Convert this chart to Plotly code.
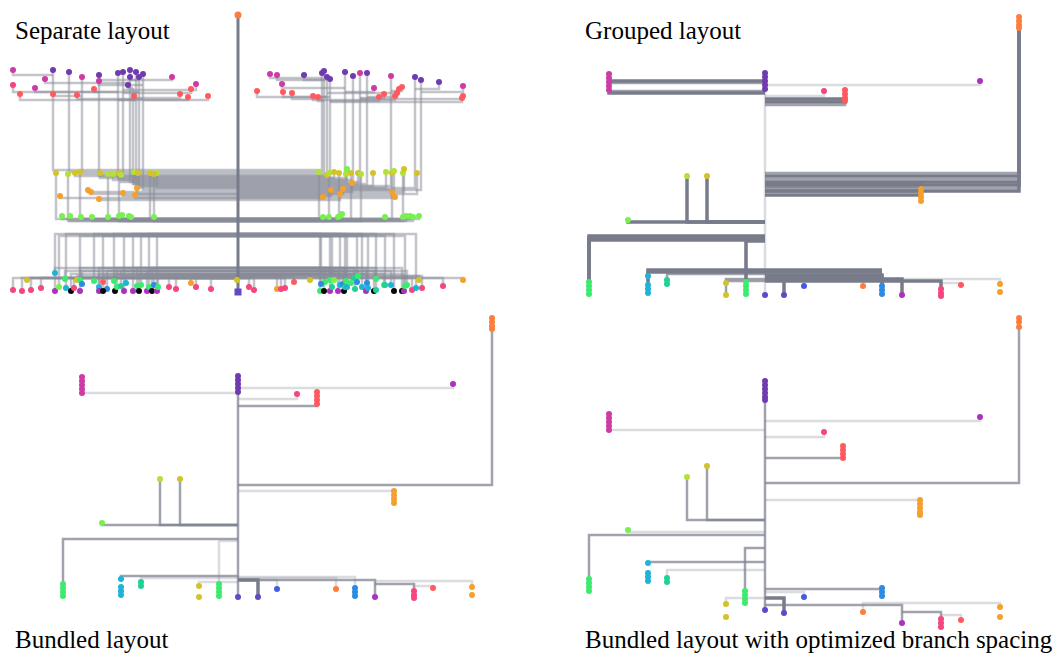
import plotly.graph_objects as go

# ---------------- colours ----------------
COL = {
    "O": "rgb(255,125,60)", "P": "rgb(110,60,175)", "M": "rgb(205,60,165)",
    "K": "rgb(245,70,125)", "R": "rgb(255,90,95)", "Y": "rgb(210,195,45)",
    "G": "rgb(180,225,55)", "A": "rgb(245,160,45)", "L": "rgb(120,240,80)",
    "E": "rgb(60,235,110)", "T": "rgb(30,210,150)", "C": "rgb(30,180,215)",
    "B": "rgb(45,140,225)", "V": "rgb(70,90,225)", "U": "rgb(100,70,200)",
    "N": "rgb(10,10,10)", "W": "rgb(170,50,190)",
}

# ================= Panel A : Separate layout =================
A_root = (238, 15)
A_trunk_end = 292
# top leaves: x, y, colour, bar y, hub x
A_top_x = [13, 53, 69, 45, 82, 99, 99, 118, 123, 130, 136, 130, 139, 143, 128, 172, 196, 13, 35, 20, 53, 77, 94, 134, 180, 191, 188, 208,
           270, 277, 257, 282, 283, 292, 304, 313, 318, 322, 324, 327, 330, 345, 353, 360, 367, 374, 379, 384, 391, 395, 397, 399, 402, 415, 421, 439, 463, 462, 463]
A_top_y = [70, 70, 72, 79, 77, 75, 81, 73, 72, 70, 72, 77, 77, 74, 85, 77, 84, 85, 88, 94, 94, 95, 89, 96, 94, 89, 97, 96,
           74, 75, 91, 84, 92, 93, 75, 96, 97, 73, 71, 77, 79, 72, 76, 73, 73, 88, 97, 94, 76, 96, 93, 89, 87, 77, 80, 82, 86, 98, 96]
A_top_c = ["M", "P", "P", "M", "M", "P", "M", "P", "P", "P", "P", "P", "P", "P", "P", "M", "M", "K", "M", "R", "R", "R", "R", "R", "R", "R", "R", "R",
           "M", "M", "R", "M", "R", "R", "P", "R", "R", "P", "P", "P", "P", "P", "P", "M", "P", "M", "R", "R", "M", "R", "R", "R", "R", "P", "P", "P", "M", "R", "R"]
A_top_bar = [75, 70, 72, 83, 77, 75, 85, 73, 72, 70, 72, 80, 77, 74, 88, 80, 90, 92, 92, 100, 96, 99, 92, 99, 98, 93, 100, 100,
             78, 80, 97, 88, 97, 99, 80, 100, 101, 73, 71, 77, 79, 72, 76, 73, 73, 92, 101, 98, 76, 100, 97, 93, 91, 77, 80, 89, 92, 102, 99]
A_top_hub = [53, 53, 69, 130, 82, 99, 143, 118, 123, 130, 136, 139, 139, 143, 133, 99, 123, 118, 99, 136, 82, 143, 139, 130, 136, 123, 118, 143,
             322, 324, 327, 345, 330, 322, 327, 353, 324, 322, 324, 327, 330, 345, 353, 360, 367, 345, 330, 360, 391, 353, 367, 327, 391, 415, 421, 415, 421, 330, 360]
# hubs: x, band y where the hub turns to the trunk
A_hub_x = [53, 69, 82, 99, 118, 123, 130, 133, 136, 139, 143, 322, 324, 327, 330, 345, 353, 360, 367, 391, 415, 421]
A_hub_band = [170, 172, 174, 176, 178, 180, 182, 184, 186, 188, 190, 170, 172, 174, 176, 178, 180, 182, 184, 186, 188, 190]

# middle rows: x, y, colour, band y
A_mid_x = [56, 68, 75, 80, 100, 108, 113, 119, 121, 134, 138, 150, 157, 154,
           60, 88, 91, 99, 123, 135, 137,
           62, 70, 81, 92, 108, 119, 122, 129, 131, 154,
           319, 327, 329, 334, 339, 346, 347, 351, 358, 361, 373, 386, 392, 394, 403, 404, 417,
           331, 323, 340, 343, 352, 392, 395,
           323, 329, 338, 340, 342, 385, 403, 406, 410, 413, 419]
A_mid_y = [173, 174, 173, 172, 173, 174, 174, 173, 175, 172, 173, 173, 173, 174,
           196, 190, 192, 199, 193, 195, 188,
           216, 216, 217, 217, 217, 216, 215, 216, 217, 217,
           172, 175, 173, 172, 173, 174, 169, 173, 173, 174, 173, 172, 173, 171, 173, 169, 173,
           190, 197, 194, 189, 183, 192, 197,
           217, 217, 217, 216, 214, 217, 217, 216, 216, 217, 216]
A_mid_c = ["Y", "G", "Y", "Y", "Y", "G", "G", "Y", "G", "G", "Y", "Y", "G", "Y",
           "A", "A", "A", "A", "A", "A", "A",
           "L", "L", "L", "L", "L", "L", "L", "L", "L", "L",
           "G", "Y", "G", "Y", "Y", "G", "L", "Y", "Y", "G", "Y", "G", "Y", "G", "G", "Y", "Y",
           "A", "A", "A", "A", "A", "A", "A",
           "L", "L", "L", "L", "L", "L", "L", "L", "L", "L", "L"]
A_mid_band = [219, 221, 176, 219, 178, 219, 180, 221, 182, 184, 186, 219, 188, 221,
              198, 192, 194, 200, 196, 198, 194,
              219, 221, 219, 221, 219, 221, 219, 221, 219, 221,
              219, 176, 221, 178, 219, 180, 182, 219, 184, 221, 186, 188, 219, 190, 221, 192, 194,
              196, 198, 200, 194, 192, 196, 198,
              219, 221, 219, 221, 219, 221, 219, 221, 219, 221, 219]

# bottom leaves: x, y, colour, band y
A_bot_x = [13, 22, 31, 41, 27, 55, 55, 59, 65, 66, 71, 74, 77, 80, 80, 82, 94, 99, 99, 103, 107, 103, 114, 115, 117, 121, 124, 126, 133, 137, 139, 141, 147, 149, 152, 154, 157, 158, 169, 176, 191, 196, 211,
           237, 249, 254, 277, 281, 285, 294, 310, 320, 325, 330, 334, 321, 324, 330, 332, 338, 340, 343, 344, 345, 346, 347, 351, 354, 355, 357, 358, 362, 366, 367, 368, 374, 376, 376, 384, 385, 391, 394, 402, 404, 405, 407, 412, 416, 419, 422, 443, 463]
A_bot_y = [290, 291, 290, 288, 280, 273, 291, 287, 279, 288, 291, 288, 280, 280, 291, 284, 281, 287, 291, 282, 289, 291, 281, 291, 287, 286, 291, 283, 291, 286, 291, 285, 291, 287, 291, 285, 291, 287, 287, 289, 283, 287, 289,
           280, 287, 290, 289, 289, 288, 282, 280, 291, 282, 280, 280, 284, 291, 291, 287, 291, 285, 284, 291, 287, 281, 287, 283, 278, 289, 282, 276, 287, 291, 283, 288, 291, 279, 290, 285, 285, 285, 291, 291, 291, 286, 285, 290, 288, 280, 288, 286, 280]
A_bot_c = ["K", "K", "K", "K", "Y", "C", "W", "L", "E", "C", "N", "K", "Y", "E", "W", "B", "E", "C", "W", "R", "B", "N", "E", "N", "E", "T", "W", "C", "W", "E", "N", "E", "W", "E", "N", "B", "W", "E", "K", "K", "A", "K", "K",
           "Y", "K", "K", "A", "K", "K", "R", "Y", "E", "E", "E", "L", "B", "N", "W", "T", "W", "C", "B", "N", "T", "E", "C", "E", "T", "T", "B", "E", "C", "W", "B", "C", "N", "E", "T", "E", "T", "C", "N", "N", "W", "E", "E", "K", "C", "Y", "K", "K", "A"]
A_bot_band = [278, 278, 278, 278, 278, 234, 268, 236, 271, 234, 274, 278, 276, 236, 268, 271, 234, 274, 268, 276, 271, 236, 234, 274, 268, 271, 236, 276, 234, 268, 274, 236, 271, 234, 268, 276, 236, 274, 278, 278, 276, 278, 278,
              278, 278, 278, 276, 276, 278, 276, 274, 234, 268, 236, 271, 234, 274, 268, 236, 271, 234, 274, 268, 236, 271, 234, 276, 268, 274, 236, 271, 234, 268, 274, 236, 271, 234, 268, 274, 236, 271, 234, 268, 274, 236, 271, 278, 234, 276, 276, 278, 278]

# ================= Panel B : Grouped layout =================
B_node_x = [1019, 1019, 1019, 1019, 765, 765, 765, 765, 765, 609, 609, 609, 609, 609, 980, 824, 845, 845, 845, 845, 921, 921, 921, 921,
            687, 707, 628, 589, 589, 589, 589, 746, 746, 746, 746, 648, 648, 648, 648, 667, 667, 726, 726, 765, 784, 804,
            863, 882, 882, 882, 902, 941, 941, 941, 961, 1000, 1000]
B_node_y = [17, 21, 25, 28, 73, 77, 81, 85, 89, 74, 78, 82, 86, 90, 81, 91, 90, 94, 98, 101, 189, 193, 197, 201,
            176, 176, 220, 282, 286, 290, 294, 282, 286, 290, 294, 276, 285, 289, 293, 280, 284, 283, 295, 295, 295, 286,
            286, 286, 290, 294, 295, 289, 293, 296, 285, 284, 292]
B_node_c = ["O", "O", "O", "O", "P", "P", "P", "P", "P", "M", "M", "M", "M", "M", "W", "K", "R", "R", "R", "R", "A", "A", "A", "A",
            "G", "Y", "L", "E", "E", "E", "E", "E", "E", "E", "E", "C", "C", "C", "C", "T", "T", "Y", "Y", "U", "U", "V",
            "O", "B", "B", "B", "W", "K", "K", "K", "R", "A", "A"]
# links: child x,y -> parent x, elbow y ; shade 0 light, 1 mid, 2 dark
B_lx0 = [1019, 1019, 1019, 1019, 1019, 1019, 1019, 921, 921, 921, 921, 609, 609, 609, 609, 980, 824, 845, 845, 845, 765,
         687, 707, 628, 589, 589, 589, 746, 746, 648, 648, 667, 882, 882, 726, 726, 784, 804, 863, 1000, 902, 941, 961]
B_ly0 = [28, 28, 28, 28, 28, 28, 28, 189, 189, 189, 189, 74, 74, 90, 90, 81, 91, 101, 101, 101, 295,
         176, 176, 220, 282, 282, 282, 282, 282, 276, 285, 280, 286, 286, 283, 295, 295, 286, 286, 284, 295, 289, 285]
B_lx1 = [765, 765, 765, 765, 765, 765, 765, 765, 765, 765, 765, 765, 765, 765, 765, 765, 765, 765, 765, 765, 765,
         765, 765, 765, 765, 765, 765, 765, 765, 882, 882, 765, 765, 765, 765, 765, 765, 765, 765, 765, 765, 765, 941]
B_ly1 = [173, 176, 179, 182, 185, 188, 191, 183, 187, 191, 195, 81, 83, 91, 93, 85, 96, 99, 102, 105, 85,
         222, 222, 222, 236, 238, 240, 239, 241, 270, 272, 274, 275, 277, 279, 281, 276, 279, 278, 279, 279, 281, 283]
B_lsh = [1, 2, 1, 2, 2, 1, 2, 2, 1, 2, 2, 2, 1, 1, 2, 0, 0, 2, 2, 1, 0,
         2, 2, 2, 2, 2, 2, 1, 2, 2, 2, 1, 2, 2, 1, 1, 2, 0, 0, 0, 2, 2, 0]

# ================= Panel C : Bundled layout =================
C_node_x = [492, 492, 492, 492, 238, 238, 238, 238, 238, 82, 82, 82, 82, 82, 453, 297, 317, 317, 317, 317, 394, 394, 394, 394,
            160, 180, 102, 63, 63, 63, 63, 219, 219, 219, 219, 121, 121, 121, 121, 141, 141, 199, 199, 238, 258, 277,
            336, 355, 355, 355, 375, 414, 414, 414, 433, 472, 472]
C_node_y = [318, 322, 326, 329, 376, 380, 384, 388, 392, 377, 381, 385, 389, 393, 384, 394, 392, 396, 400, 404, 491, 495, 499, 503,
            479, 479, 523, 584, 588, 592, 596, 584, 588, 592, 596, 579, 587, 591, 595, 582, 586, 586, 597, 597, 597, 589,
            589, 588, 592, 596, 597, 591, 595, 598, 588, 587, 595]
C_node_c = B_node_c
C_lx0 = [82, 453, 297, 317, 238, 492, 394, 160, 180, 102, 63, 219, 121, 141, 199, 258, 277, 336, 355, 375, 472, 414, 433]
C_ly0 = [393, 384, 394, 404, 597, 329, 491, 479, 479, 523, 584, 584, 579, 582, 586, 597, 589, 589, 588, 597, 587, 591, 588]
C_lx1 = [238, 238, 238, 238, 238, 238, 238, 238, 238, 238, 238, 238, 238, 238, 238, 238, 238, 238, 238, 238, 375, 375, 414]
C_ly1 = [393, 388, 399, 406, 380, 485, 491, 525, 525, 525, 539, 541, 576, 578, 582, 580, 580, 578, 577, 580, 581, 584, 586]
C_lsh = [0, 0, 0, 1, 1, 1, 0, 1, 1, 1, 1, 0, 1, 0, 0, 2, 0, 0, 0, 1, 0, 1, 0]

# ================= Panel D : Bundled, optimized spacing =================
D_node_x = [1019, 1019, 1019, 765, 765, 765, 765, 765, 765, 609, 609, 609, 609, 609, 980, 824, 843, 843, 843, 843, 920, 920, 920, 920, 920,
            687, 707, 628, 589, 589, 589, 589, 745, 745, 745, 745, 648, 648, 648, 648, 667, 667, 726, 726, 765, 784, 804,
            863, 882, 882, 882, 902, 941, 941, 941, 961, 1000, 1000]
D_node_y = [318, 322, 327, 381, 385, 389, 393, 397, 400, 414, 418, 422, 426, 430, 417, 432, 446, 450, 454, 458, 500, 504, 508, 512, 515,
            477, 466, 530, 579, 583, 587, 591, 591, 595, 599, 603, 563, 573, 577, 581, 578, 582, 604, 617, 610, 613, 597,
            612, 588, 592, 596, 623, 619, 623, 627, 620, 607, 617]
D_node_c = ["O", "O", "O", "P", "P", "P", "P", "P", "P", "M", "M", "M", "M", "M", "W", "K", "R", "R", "R", "R", "A", "A", "A", "A", "A",
            "G", "Y", "L", "E", "E", "E", "E", "E", "E", "E", "E", "C", "C", "C", "C", "T", "T", "Y", "Y", "U", "U", "V",
            "O", "B", "B", "B", "W", "K", "K", "K", "R", "A", "A"]
D_lx0 = [609, 980, 824, 843, 765, 1019, 920, 687, 707, 628, 589, 745, 648, 667, 726, 784, 804, 882, 863, 902, 1000, 941, 961]
D_ly0 = [430, 417, 432, 458, 610, 327, 500, 477, 466, 530, 579, 591, 563, 578, 604, 613, 597, 588, 612, 623, 607, 619, 620]
D_lx1 = [765, 765, 765, 765, 765, 765, 765, 765, 765, 765, 765, 765, 765, 765, 765, 765, 765, 765, 882, 765, 882, 902, 941]
D_ly1 = [430, 421, 437, 458, 390, 483, 500, 520, 520, 532, 535, 548, 562, 570, 598, 598, 592, 589, 603, 605, 603, 612, 615]
D_lsh = [0, 0, 0, 1, 1, 1, 0, 1, 1, 0, 1, 1, 1, 0, 0, 2, 0, 1, 0, 1, 0, 1, 0]

# titles
TITLES = ["Separate layout", "Grouped layout", "Bundled layout", "Bundled layout with optimized branch spacing"]
TITLE_X = [13, 583, 13, 583]
TITLE_Y = [30, 30, 639, 639]

# ---------------- drawing helpers ----------------
fig = go.Figure()
SHADES = [("rgba(150,154,165,0.35)", 2.5), ("rgba(128,132,145,0.75)", 2.5), ("rgba(120,124,138,1)", 3.5)]


def add_elbows(x0s, y0s, x1s, y1s, color, width):
    xs, ys = [], []
    for x0, y0, x1, y1 in zip(x0s, y0s, x1s, y1s):
        xs += [x0, x0, x1, None]
        ys += [y0, y1, y1, None]
    fig.add_trace(go.Scatter(x=xs, y=ys, mode="lines", hoverinfo="skip",
                             line=dict(color=color, width=width)))


def add_links(x0s, y0s, x1s, y1s, shades):
    for s, (c, w) in enumerate(SHADES):
        idx = [i for i, v in enumerate(shades) if v == s]
        if idx:
            add_elbows([x0s[i] for i in idx], [y0s[i] for i in idx],
                       [x1s[i] for i in idx], [y1s[i] for i in idx], c, w)


def add_nodes(xs, ys, cs, size=7):
    fig.add_trace(go.Scatter(x=xs, y=ys, mode="markers", hoverinfo="skip",
                             marker=dict(size=size, color=[COL[c] for c in cs], line=dict(width=0))))


# Panel A
light = "rgba(135,140,152,0.5)"
add_elbows(A_top_x, A_top_y, A_top_hub, A_top_bar, light, 2.5)
add_elbows(A_hub_x, [min(b for b, h in zip(A_top_bar, A_top_hub) if h == hx) for hx in A_hub_x],
           [A_root[0]] * len(A_hub_x), A_hub_band, light, 2.5)
add_elbows(A_mid_x, A_mid_y, [A_root[0]] * len(A_mid_x), A_mid_band, light, 2.5)
add_elbows(A_bot_x, A_bot_y, [A_root[0]] * len(A_bot_x), A_bot_band, light, 2.5)
add_elbows([A_root[0]], [A_trunk_end], [A_root[0]], [A_root[1]], "rgba(120,124,138,1)", 3)
add_nodes(A_top_x + A_mid_x + A_bot_x, A_top_y + A_mid_y + A_bot_y, A_top_c + A_mid_c + A_bot_c, 6)
add_nodes([A_root[0]], [A_root[1]], ["O"], 7)
fig.add_trace(go.Scatter(x=[A_root[0]], y=[A_trunk_end], mode="markers", hoverinfo="skip",
                         marker=dict(size=7, symbol="square", color=COL["U"])))

# Panel B, C, D
add_links(B_lx0, B_ly0, B_lx1, B_ly1, B_lsh)
add_nodes(B_node_x, B_node_y, B_node_c, 6)
add_links(C_lx0, C_ly0, C_lx1, C_ly1, C_lsh)
add_nodes(C_node_x, C_node_y, C_node_c, 6)
add_links(D_lx0, D_ly0, D_lx1, D_ly1, D_lsh)
add_nodes(D_node_x, D_node_y, D_node_c, 6)

for t, tx, ty in zip(TITLES, TITLE_X, TITLE_Y):
    fig.add_annotation(x=tx, y=ty, text=t, showarrow=False, xanchor="left", yanchor="middle",
                       font=dict(family="Liberation Serif", size=25, color="black"))

# the page body has an 8px margin: size the figure and ranges so that
# one data unit equals one screen pixel of the 1062x653 window
fig.update_layout(
    width=1054, height=645, margin=dict(l=0, r=0, t=0, b=0),
    paper_bgcolor="white", plot_bgcolor="white", showlegend=False,
    xaxis=dict(range=[8, 1062], visible=False, fixedrange=True),
    yaxis=dict(range=[653, 8], visible=False, fixedrange=True),
)
fig.write_html("out.html")
